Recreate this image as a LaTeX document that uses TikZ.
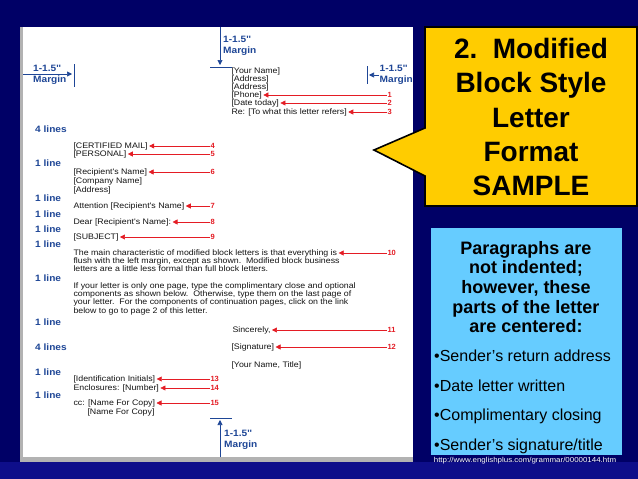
\documentclass[tikz,border=0pt]{standalone}
\usepackage{fontspec}
\setmainfont{Liberation Sans}
\newfontfamily\ltrfont[FakeStretch=1.1]{Liberation Sans}
\usetikzlibrary{arrows.meta}
\definecolor{slidebg}{RGB}{0,0,102}
\definecolor{slidebg2}{RGB}{14,14,138}
\definecolor{callyellow}{RGB}{255,204,0}
\definecolor{noteblue}{RGB}{102,204,255}
\definecolor{mblue}{RGB}{30,70,150}
\definecolor{mred}{RGB}{228,28,36}
\definecolor{ink}{RGB}{20,20,20}

\begin{document}
\begin{tikzpicture}[x=1pt,y=-1pt]
    \tikzset{
        ltr/.style={anchor=west, inner sep=0.3pt, text=ink, font=\ltrfont\fontsize{8}{8.3}\selectfont, text height=5.8pt, text depth=1.6pt},
        gap/.style={anchor=west, inner sep=0pt, text=mblue, font=\ltrfont\bfseries\fontsize{9.2}{9.5}\selectfont},
        num/.style={anchor=west, inner sep=0.3pt, text=mred, font=\bfseries\fontsize{7.5}{8}\selectfont, text height=5.8pt, text depth=1.6pt},
        ptr/.style={draw=mred, line width=0.6pt, shorten >=1pt, -{Triangle[length=5pt,width=5pt]}},
        mrg/.style={draw=mblue, line width=0.6pt},
        mlab/.style={anchor=west, inner sep=0pt, text=mblue, align=left, font=\ltrfont\bfseries\fontsize{9.2}{10.5}\selectfont},
    }

    % slide and page
    \useasboundingbox (0,0) rectangle (638,479);
    \fill[slidebg] (0,0) rectangle (638,479);
    \fill[slidebg2] (0,462) rectangle (638,479);
    \fill[gray!60] (20,27) rectangle (413,462);
    \fill[white] (23,27) rectangle (413,457);

    % margins
    \draw[mrg, -{Triangle[length=5pt,width=5pt]}] (220,27) -- (220,65);
    \draw[mrg] (210,67) -- (232,67);
    \node[mlab] (mtop) at (223,46) {1-1.5''\\Margin};
    \draw[mrg, -{Triangle[length=5pt,width=5pt]}] (23,74) -- (72,74);
    \draw[mrg] (74,64) -- (74,87);
    \node[mlab] (mleft) at (33,75) {1-1.5''\\Margin};
    \draw[mrg, -{Triangle[length=5pt,width=5pt]}] (413,75) -- (369,75);
    \draw[mrg] (367,66) -- (367,84);
    \node[mlab, fill=white, inner sep=0.5pt] (mright) at (379,75) {1-1.5''\\Margin};
    \draw[mrg, -{Triangle[length=5pt,width=5pt]}] (220,457) -- (220,420);
    \draw[mrg] (210,418) -- (232,418);
    \node[mlab] (mbot) at (224,440) {1-1.5''\\Margin};

    % spacing notes
    \node[gap] (g1) at (35,129) {4 lines};
    \node[gap] (g2) at (35,163) {1 line};
    \node[gap] (g3) at (35,198) {1 line};
    \node[gap] (g4) at (35,214) {1 line};
    \node[gap] (g5) at (35,229) {1 line};
    \node[gap] (g6) at (35,244) {1 line};
    \node[gap] (g7) at (35,278) {1 line};
    \node[gap] (g8) at (35,322) {1 line};
    \node[gap] (g9) at (35,347) {4 lines};
    \node[gap] (g10) at (35,372) {1 line};
    \node[gap] (g11) at (35,395) {1 line};

    % sender block
    \node[ltr] (yname) at (231,71) {[Your Name]};
    \node[ltr] (addr1) at (231,79) {[Address]};
    \node[ltr] (addr2) at (231,87) {[Address]};
    \node[ltr] (phone) at (231,95) {[Phone]};
    \node[ltr] (today) at (231,103) {[Date today]};
    \node[ltr] (refers) at (231,112) {Re: [To what this letter refers]};

    % inside address and salutation
    \node[ltr] (certified) at (73,146) {[CERTIFIED MAIL]};
    \node[ltr] (personal) at (73,154) {[PERSONAL]};
    \node[ltr] (rname) at (73,172) {[Recipient's Name]};
    \node[ltr] (company) at (73,181) {[Company Name]};
    \node[ltr] (raddr) at (73,190) {[Address]};
    \node[ltr] (attn) at (73,206) {Attention [Recipient's Name]};
    \node[ltr] (dear) at (73,222) {Dear [Recipient's Name]:};
    \node[ltr] (subject) at (73,237) {[SUBJECT]};

    % body
    \node[ltr] (body1) at (73,253) {The main characteristic of modified block letters is that everything is};
    \node[ltr] (body2) at (73,261) {flush with the left margin, except as shown.\ \ Modified block business};
    \node[ltr] (body3) at (73,269) {letters are a little less formal than full block letters.};
    \node[ltr] (body4) at (73,286) {If your letter is only one page, type the complimentary close and optional};
    \node[ltr] (body5) at (73,294) {components as shown below.\ \ Otherwise, type them on the last page of};
    \node[ltr] (body6) at (73,302) {your letter.\ \ For the components of continuation pages, click on the link};
    \node[ltr] (body7) at (73,311) {below to go to page 2 of this letter.};

    % closing
    \node[ltr] (sincerely) at (232,330) {Sincerely,};
    \node[ltr] (signature) at (231,347) {[Signature]};
    \node[ltr] (ytitle) at (231,365) {[Your Name, Title]};
    \node[ltr] (initials) at (73,379) {[Identification Initials]};
    \node[ltr] (encl) at (73,388) {Enclosures: [Number]};
    \node[ltr] (cc1) at (73,403) {cc: [Name For Copy]};
    \node[ltr] (cc2) at (87,412) {[Name For Copy]};

    % numbered pointers
    \node[num] (n1) at (387,95) {1};
    \node[num] (n2) at (387,103) {2};
    \node[num] (n3) at (387,112) {3};
    \node[num] (n4) at (210,146) {4};
    \node[num] (n5) at (210,154) {5};
    \node[num] (n6) at (210,172) {6};
    \node[num] (n7) at (210,206) {7};
    \node[num] (n8) at (210,222) {8};
    \node[num] (n9) at (210,237) {9};
    \node[num] (n10) at (387,253) {10};
    \node[num] (n11) at (387,330) {11};
    \node[num] (n12) at (387,347) {12};
    \node[num] (n13) at (210,379) {13};
    \node[num] (n14) at (210,388) {14};
    \node[num] (n15) at (210,403) {15};
    \draw[ptr] (n1) -- (phone);
    \draw[ptr] (n2) -- (today);
    \draw[ptr] (n3) -- (refers);
    \draw[ptr] (n4) -- (certified);
    \draw[ptr] (n5) -- (personal);
    \draw[ptr] (n6) -- (rname);
    \draw[ptr] (n7) -- (attn);
    \draw[ptr] (n8) -- (dear);
    \draw[ptr] (n9) -- (subject);
    \draw[ptr] (n10) -- (body1);
    \draw[ptr] (n11) -- (sincerely);
    \draw[ptr] (n12) -- (signature);
    \draw[ptr] (n13) -- (initials);
    \draw[ptr] (n14) -- (encl);
    \draw[ptr] (n15) -- (cc1);

    % callout
    \draw[fill=callyellow, line width=1.6pt, line join=miter] (425,27) -- (637,27) -- (637,206) -- (425,206) -- (425,176) -- (374,150) -- (425,128) -- cycle;
    \node[font=\bfseries\fontsize{28}{34.4}\selectfont, align=center] (title) at (531,117) {2.\ \ Modified\\Block Style\\Letter\\Format\\SAMPLE};

    % note box
    \fill[noteblue] (431,228) rectangle (622,455);
    \node[font=\bfseries\fontsize{18}{19.7}\selectfont, align=center] (head) at (526,287) {Paragraphs are\\not indented;\\however, these\\parts of the letter\\are centered:};
    \node[anchor=west, inner sep=0pt, font=\fontsize{16}{29.7}\selectfont, align=left] (parts) at (434,402) {•Sender’s return address\\•Date letter written\\•Complimentary closing\\•Sender’s signature/title};
    \node[text=white, inner sep=0pt, font=\ltrfont\fontsize{7.2}{7.2}\selectfont] (src) at (525,461) {http://www.englishplus.com/grammar/00000144.htm};
\end{tikzpicture}
\end{document}
